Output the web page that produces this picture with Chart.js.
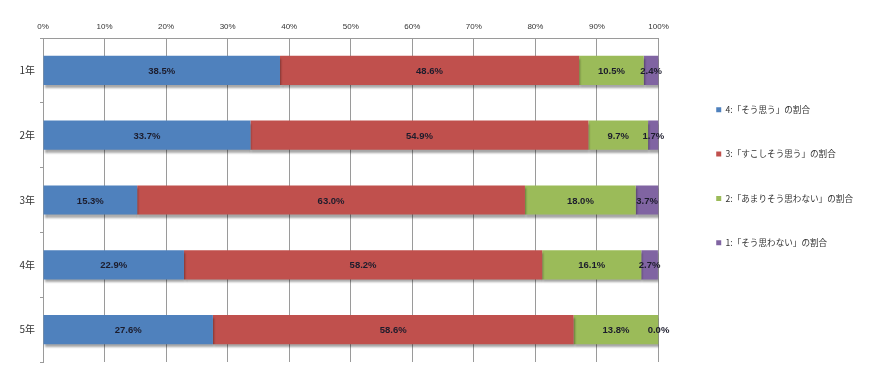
<!DOCTYPE html>
<html>
<head>
<meta charset="utf-8">
<script src="https://cdn.jsdelivr.net/npm/chart.js@4"></script>
<style>
  html, body { margin: 0; padding: 0; background: #fff; }
  #wrap { width: 870px; height: 382px; }
</style>
</head>
<body>
<div id="wrap"><canvas id="chart" width="870" height="382"></canvas></div>
<script>
// grades (rows) and answer shares in percent
const grades = ["1年", "2年", "3年", "4年", "5年"];
const seriesNames = [
  "4:「そう思う」の割合",
  "3:「すこしそう思う」の割合",
  "2:「あまりそう思わない」の割合",
  "1:「そう思わない」の割合"
];
const agree = [38.5, 33.7, 15.3, 22.9, 27.6];
const slightlyAgree = [48.6, 54.9, 63.0, 58.2, 58.6];
const slightlyDisagree = [10.5, 9.7, 18.0, 16.1, 13.8];
const disagree = [2.4, 1.7, 3.7, 2.7, 0.0];
const xTicks = [0, 10, 20, 30, 40, 50, 60, 70, 80, 90, 100];

const colors = ["#4F81BD", "#C0504D", "#9BBB59", "#8064A2"];
const values = [agree, slightlyAgree, slightlyDisagree, disagree];
const jpFont = "'Noto Sans CJK JP', sans-serif";

// soft drop shadow under the bars, like the office chart
const barShadow = {
  id: "barShadow",
  beforeDatasetsDraw(chart) {
    const ctx = chart.ctx;
    ctx.save();
    ctx.shadowColor = "rgba(0,0,0,0.35)";
    ctx.shadowOffsetX = 1;
    ctx.shadowOffsetY = 3;
    ctx.shadowBlur = 2;
  },
  afterDatasetsDraw(chart) {
    chart.ctx.restore();
  }
};

// value labels in the middle of every segment
const segLabels = {
  id: "segLabels",
  afterDatasetsDraw(chart) {
    const ctx = chart.ctx;
    ctx.save();
    ctx.font = "bold 9.5px 'Liberation Sans', Arial, sans-serif";
    ctx.fillStyle = "#1c1c2c";
    ctx.textAlign = "center";
    ctx.textBaseline = "middle";
    chart.data.datasets.forEach((ds, i) => {
      chart.getDatasetMeta(i).data.forEach((bar, j) => {
        const mid = (bar.x + bar.base) / 2;
        ctx.fillText(ds.data[j].toFixed(1) + "%", mid, bar.y + 1);
      });
    });
    ctx.restore();
  }
};

function draw() {
  new Chart(document.getElementById("chart"), {
    type: "bar",
    data: {
      labels: grades,
      datasets: seriesNames.map((name, i) => ({
        label: name,
        data: values[i],
        backgroundColor: colors[i],
        borderWidth: 0,
        barPercentage: 0.45,
        categoryPercentage: 1
      }))
    },
    options: {
      indexAxis: "y",
      responsive: false,
      animation: false,
      layout: { padding: { left: 0, top: 0, bottom: 20, right: 7 } },
      scales: {
        x: {
          position: "top",
          stacked: true,
          min: 0,
          max: 100,
          afterBuildTicks: (s) => { s.ticks = xTicks.map((v) => ({ value: v })); },
          afterFit: (s) => { s.height = 38; },
          grid: { color: "#9a9a9a", drawTicks: false },
          border: { color: "#9a9a9a" },
          ticks: {
            padding: 6,
            color: "#333",
            font: { family: "'Liberation Sans', Arial, sans-serif", size: 8 },
            callback: (v) => v + "%"
          }
        },
        y: {
          stacked: true,
          afterFit: (s) => { s.width = 43; },
          grid: { offset: true, drawOnChartArea: false, tickLength: 3, color: "#9a9a9a" },
          border: { color: "#9a9a9a" },
          ticks: {
            padding: 5,
            color: "#333",
            font: { family: jpFont, size: 10 }
          }
        },
        spacer: {
          type: "linear",
          axis: "y",
          position: "right",
          grid: { display: false },
          border: { display: false },
          ticks: { display: false },
          afterFit: (s) => { s.width = 22; }
        }
      },
      plugins: {
        tooltip: { enabled: false },
        legend: {
          position: "right",
          align: "start",
          maxWidth: 300,
          title: { display: true, text: "", padding: { top: 59, bottom: 0 }, font: { size: 9 } },
          labels: {
            boxWidth: 5,
            boxHeight: 5,
            padding: 35.7,
            color: "#333",
            font: { family: jpFont, size: 8.6 }
          }
        }
      }
    },
    plugins: [barShadow, segLabels]
  });
}

// make sure the CJK face is ready before the legend is measured
Promise.all([
  document.fonts.load("10px 'Noto Sans CJK JP'", "年そう思すこしあまりわないの割合「」"),
  document.fonts.load("bold 9.5px 'Liberation Sans'", "0123456789.%")
]).then(draw, draw);
</script>
</body>
</html>
